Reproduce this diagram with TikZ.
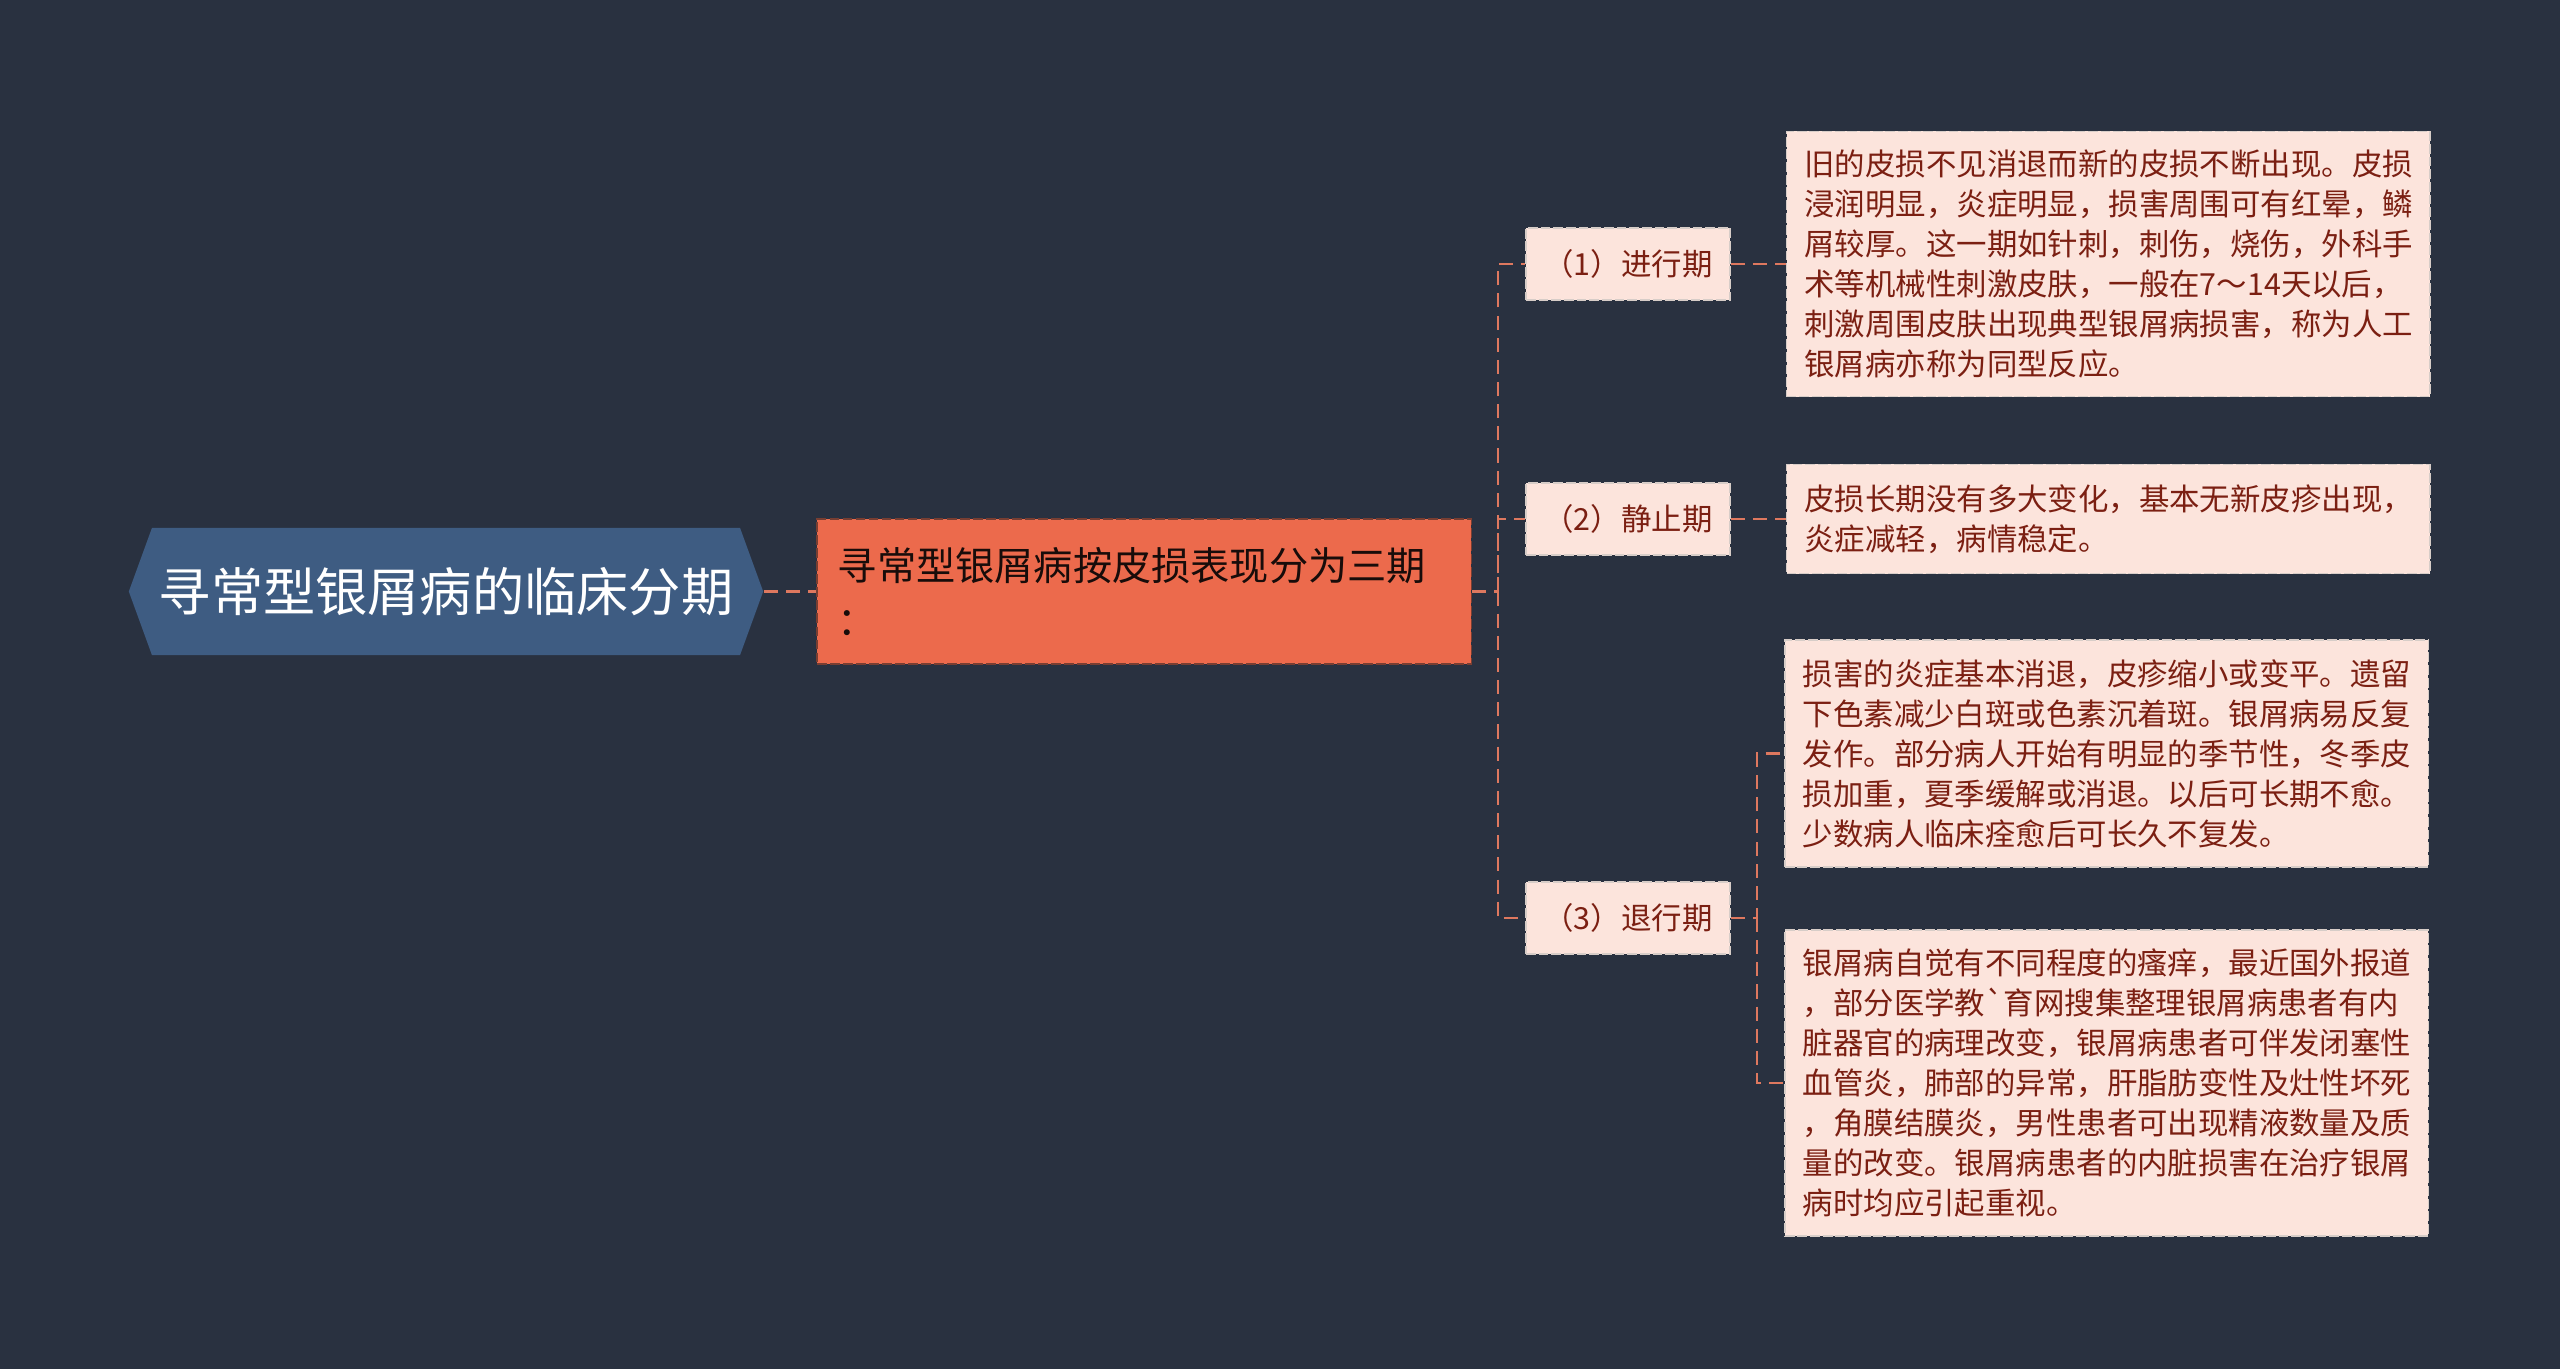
\documentclass[tikz,border=0pt]{standalone}
\usepackage{fontspec}
\setmainfont{Noto Sans CJK SC}
\usetikzlibrary{positioning,shapes.symbols}
\definecolor{bgc}{RGB}{41,49,64}
\definecolor{rootc}{RGB}{62,92,130}
\definecolor{mainc}{RGB}{236,106,76}
\definecolor{mainline}{RGB}{120,62,50}
\definecolor{leafc}{RGB}{252,228,220}
\definecolor{leafline}{RGB}{215,205,200}
\definecolor{leaftext}{RGB}{123,31,18}
\definecolor{linkc}{RGB}{222,120,95}

\begin{document}
\begin{tikzpicture}[x=0.01cm, y=-0.01cm,
    rootbox/.style={shape=signal, signal to=west and east, signal pointer angle=140,
                    fill=rootc, text=white, inner sep=0pt,
                    minimum width=6.34cm, minimum height=1.27cm,
                    font=\fontsize{14.85}{18}\selectfont},
    mainbox/.style={fill=mainc, draw=mainline, dash pattern=on 2.8pt off 0.9pt, line width=0.4pt,
                    text=black!80!mainline, align=left, text width=6.12cm,
                    inner xsep=0.21cm, inner ysep=0pt,
                    minimum width=6.54cm, minimum height=1.45cm,
                    font=\fontsize{11.15}{15.6}\selectfont},
    stagebox/.style={fill=leafc, draw=leafline, dash pattern=on 2.8pt off 0.8pt, line width=0.4pt,
                     text=leaftext, inner sep=0pt,
                     minimum width=2.04cm, minimum height=0.72cm,
                     font=\fontsize{8.65}{11}\selectfont},
    leafbox/.style={fill=leafc, draw=leafline, dash pattern=on 2.8pt off 0.8pt, line width=0.4pt,
                    text=leaftext, align=left, text width=6.07cm,
                    inner xsep=0.18cm, inner ysep=0pt, minimum width=6.43cm,
                    font=\fontsize{8.65}{11.38}\selectfont},
    link/.style={draw=linkc, line width=0.75pt, dash pattern=on 4pt off 2.3pt}]

    \useasboundingbox (0,0) rectangle (2560,1369);
    \fill[bgc] (0,0) rectangle (2560,1369);

    % ── root and summary ─────────────────────────────────────
    \node[rootbox] (root) at (446,591.5) {寻常型银屑病的临床分期};
    \node[mainbox] (main) at (1144,591.5) {寻常型银屑病按皮损表现分为三期\\：};
    \draw[link] (root.east) -- (main.west);

    % ── stages ───────────────────────────────────────────────
    \node[stagebox] (s1) at (1628,264) {（1）进行期};
    \node[stagebox] (s2) at (1628,519) {（2）静止期};
    \node[stagebox] (s3) at (1628,918) {（3）退行期};
    \coordinate (j1) at (1498,591.5);
    \draw[link] (main.east) -- (j1) |- (s1.west);
    \draw[link] (j1) |- (s2.west);
    \draw[link] (j1) |- (s3.west);

    % ── details ──────────────────────────────────────────────
    \node[leafbox, minimum height=2.65cm, right=0.55cm of s1] (l1)
      {旧的皮损不见消退而新的皮损不断出现。皮损\\浸润明显，炎症明显，损害周围可有红晕，鳞\\屑较厚。这一期如针刺，刺伤，烧伤，外科手\\术等机械性刺激皮肤，一般在7～14天以后，\\刺激周围皮肤出现典型银屑病损害，称为人工\\银屑病亦称为同型反应。};
    \node[leafbox, minimum height=1.09cm, right=0.55cm of s2] (l2)
      {皮损长期没有多大变化，基本无新皮疹出现，\\炎症减轻，病情稳定。};
    \node[leafbox, minimum height=2.27cm] (l3) at (2106.5,753.5)
      {损害的炎症基本消退，皮疹缩小或变平。遗留\\下色素减少白斑或色素沉着斑。银屑病易反复\\发作。部分病人开始有明显的季节性，冬季皮\\损加重，夏季缓解或消退。以后可长期不愈。\\少数病人临床痊愈后可长久不复发。};
    \node[leafbox, minimum height=3.06cm] (l4) at (2106.5,1083)
      {银屑病自觉有不同程度的瘙痒，最近国外报道\\，部分医学教\textasciigrave 育网搜集整理银屑病患者有内\\脏器官的病理改变，银屑病患者可伴发闭塞性\\血管炎，肺部的异常，肝脂肪变性及灶性坏死\\，角膜结膜炎，男性患者可出现精液数量及质\\量的改变。银屑病患者的内脏损害在治疗银屑\\病时均应引起重视。};
    \draw[link] (s1.east) -- (l1.west);
    \draw[link] (s2.east) -- (l2.west);
    \coordinate (j2) at (1757,918);
    \draw[link] (s3.east) -- (j2) |- (l3.west);
    \draw[link] (j2) |- (l4.west);

  \end{tikzpicture}
\end{document}
